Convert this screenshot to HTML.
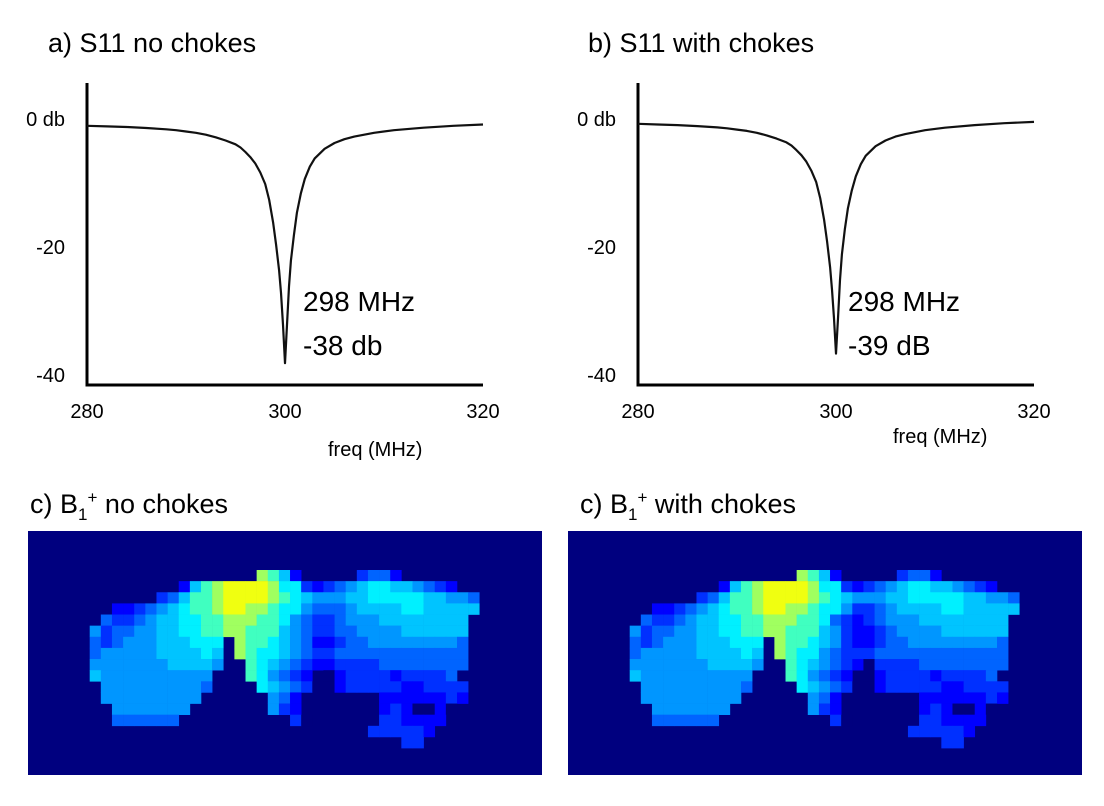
<!DOCTYPE html>
<html><head><meta charset="utf-8"><style>
body{margin:0;background:#fff;width:1104px;height:801px;overflow:hidden;font-family:"Liberation Sans",sans-serif}
svg text{font-family:"Liberation Sans",sans-serif;fill:#000}
</style></head><body>
<svg id="fig" width="1104" height="801">
<g id="gA"></g>
<g id="gB"></g>
<g id="hA"></g>
<g id="hB"></g>
<text x="48" y="52" font-size="27">a) S11 no chokes</text>
<text x="588" y="52" font-size="27">b) S11 with chokes</text>
<text x="30" y="513" font-size="27">c) B<tspan font-size="17" dy="7">1</tspan><tspan font-size="17" dy="-17">+</tspan><tspan dy="10"> no chokes</tspan></text>
<text x="580" y="513" font-size="27">c) B<tspan font-size="17" dy="7">1</tspan><tspan font-size="17" dy="-17">+</tspan><tspan dy="10"> with chokes</tspan></text>
</svg>
<script>
const freqA=[280,282,284,286,288,289,290,291,292,293,294,295,295.5,296,296.5,297,297.5,298,298.4,298.8,299.1,299.4,299.6,299.8,300,300.2,300.4,300.6,300.9,301.2,301.6,302,302.5,303,304,305,306,307,309,311,314,317,320];
const s11A=[-0.9,-1.0,-1.1,-1.25,-1.45,-1.6,-1.8,-2.0,-2.3,-2.7,-3.2,-3.8,-4.3,-5.0,-5.8,-6.8,-8.2,-10,-12.5,-16,-19.5,-23.5,-27,-32,-38,-32,-26,-22,-18,-14.5,-11.5,-9.2,-7.3,-6,-4.5,-3.6,-3.0,-2.6,-2.0,-1.6,-1.2,-0.9,-0.7];
const freqB=[280,282,284,286,288,289,290,291,292,293,294,295,295.5,296,296.5,297,297.5,298,298.4,298.8,299.1,299.4,299.6,299.8,300,300.2,300.4,300.6,300.9,301.2,301.6,302,302.5,303,304,305,306,307,309,311,314,317,320];
const s11B=[-0.6,-0.7,-0.8,-0.95,-1.15,-1.3,-1.5,-1.7,-2.0,-2.4,-2.9,-3.5,-4.0,-4.7,-5.5,-6.5,-7.9,-9.7,-12.2,-15.6,-19,-23,-26.5,-31,-36.5,-31,-25,-21,-17,-13.8,-11,-8.8,-6.9,-5.6,-4.1,-3.2,-2.6,-2.2,-1.6,-1.2,-0.8,-0.5,-0.3];
const xTicks=["280","300","320"];
const xTickVals=[280,300,320];
const yTicks=["0 db","-20","-40"];
const yTickVals=[0,-20,-40];
const NS="http://www.w3.org/2000/svg";
function mk(p,t,a){const e=document.createElementNS(NS,t);for(const k in a)e.setAttribute(k,a[k]);p.appendChild(e);return e;}
function chart(id,ox,freq,vals,ann1,ann2,annX,flX,flY){
  const g=document.getElementById(id);
  const x=f=>ox+(f-280)/40*396, y=v=>120-v*6.4;
  const ax=mk(g,'path',{d:`M${ox} 83V385H${ox+396}`,stroke:'#000','stroke-width':3,fill:'none'});
  
  
  xTickVals.forEach((v,i)=>{const t=mk(g,'text',{x:x(v),y:418,'font-size':20,'text-anchor':'middle'});t.textContent=xTicks[i];
    
    });
  yTickVals.forEach((v,i)=>{const t=mk(g,'text',{x:ox-22,y:y(v)+6,'font-size':20,'text-anchor':'end'});t.textContent=yTicks[i];
    
    });
  const d=freq.map((f,i)=>(i?'L':'M')+x(f).toFixed(1)+' '+y(vals[i]).toFixed(1)).join('');
  const p=mk(g,'path',{d:d,stroke:'#111','stroke-width':2.2,fill:'none','stroke-linejoin':'round'});
  
  
  const a=mk(g,'text',{x:annX,y:311,'font-size':28});a.textContent=ann1;
  
  
  const b=mk(g,'text',{x:annX,y:355,'font-size':28});b.textContent=ann2;
  
  
  const f=mk(g,'text',{x:flX,y:flY,'font-size':20});f.textContent='freq (MHz)';
  
  
}
chart('gA',87,freqA,s11A,'298 MHz','-38 db',303,328,456);
chart('gB',638,freqB,s11B,'298 MHz','-39 dB',848,893,443);

const colors=['#00007f','#0000ff','#0030ff','#0064ff','#0096ff','#00c4ff','#00f0ff','#40ffc0','#a0ff60','#f0ff10'];
// rows of the B1 map: '.' = background, digits = colormap level
const mapA=[
"...............8751.....2331",
"........1578999986621234566554321",
"......23577899998765444556666655443",
"..112345677899887664333455556655555",
".322345566778887764322344455555555",
"4233445566778877754322334444555555",
"323444555666.877654311233444444443",
"344444555565.876654322333333333333",
"444444455554..76543211222233333333",
"54444444444...764321.012222122223",
".4444444443....654320.122222112222",
".444444444......431.......11111121",
"..4444444.......421.......1210010",
"..333333..........20.....0221111",
".........................222221",
"............................22"];
const mapB=[
"...............8751.....2331",
"........1578999986621234566554321",
"......23577899998765444556666655443",
"..112345677899887664223455556655555",
".322345566778887763212344455555555",
"4233445566778877754211234444555555",
"323444555666.877654211233444444443",
"344444555565.876643222333333333333",
"444444455554..76543210222233333333",
"54444444444...764321.012222122223",
".4444444443....654320.122222112222",
".444444444......431.......11111121",
"..4444444.......421.......1210010",
"..333333..........20.....0221111",
".........................222221",
"............................22"];
function heat(id,ox,rows){
  const g=document.getElementById(id);
  const bg=mk(g,'rect',{x:ox,y:531,width:514,height:244,fill:colors[0]});
  
  
  const cs=11.13,x0=ox+61.7,y0=570;
  rows.forEach((r,ri)=>{[...r].forEach((c,ci)=>{if(c==='.')return;
    const e=mk(g,'rect',{x:(x0+ci*cs).toFixed(2),y:(y0+ri*cs).toFixed(2),width:cs+0.3,height:cs+0.3,fill:colors[+c]});
    
    
  });});
}
heat('hA',28,mapA);
heat('hB',568,mapB);
</script>
</body></html>
